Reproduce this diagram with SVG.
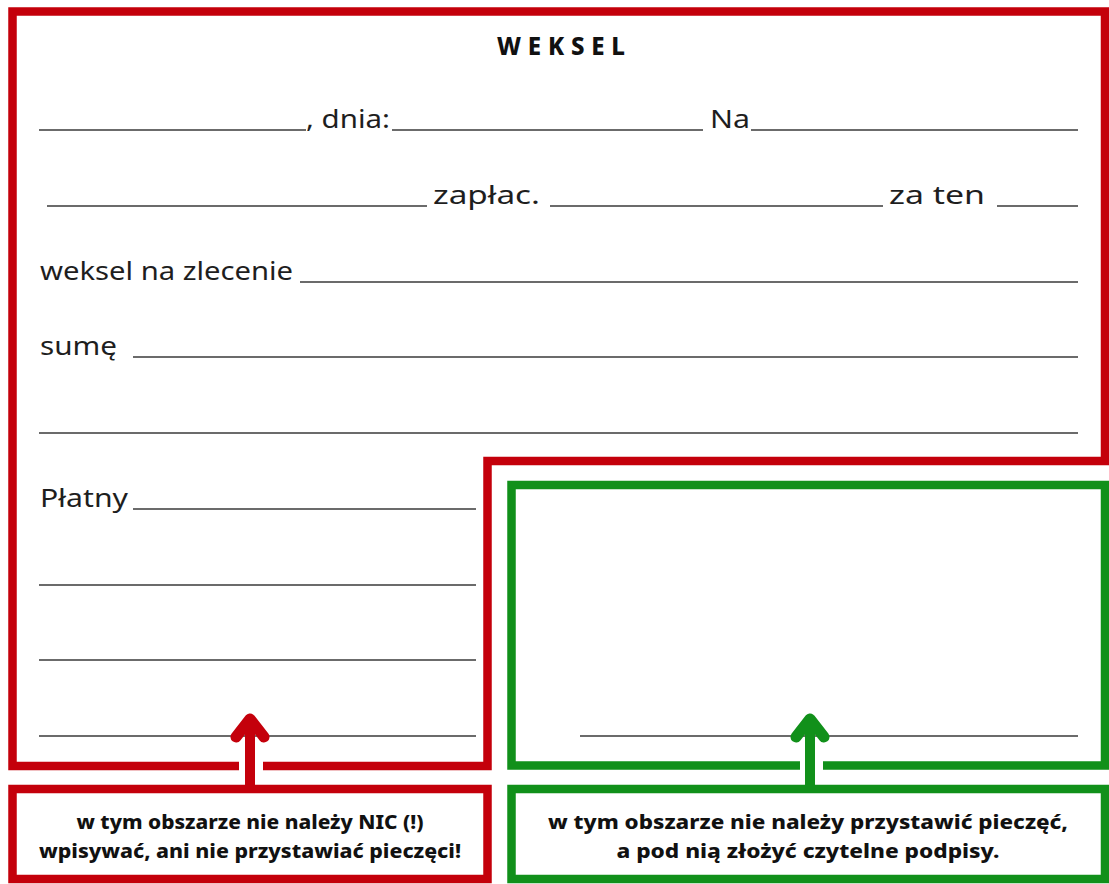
<svg xmlns="http://www.w3.org/2000/svg" width="1109" height="884" viewBox="0 0 1109 884">
<style>
.bg{fill:#ffffff}
.red{fill:none;stroke:#c4000b;stroke-width:8.5}
.green{fill:none;stroke:#11901a;stroke-width:8.5}
.ln{stroke:#3a3a3a;stroke-width:1.6}
.t{font-family:"Noto Sans","Open Sans","Liberation Sans",sans-serif;font-size:25px;fill:#1e1e1e}
.h{font-family:"Noto Sans","Open Sans","Liberation Sans",sans-serif;font-size:24px;font-weight:800;fill:#111}
.n{font-family:"Noto Sans","Open Sans","Liberation Sans",sans-serif;font-size:20px;font-weight:800;fill:#111;text-anchor:middle}
.ar{fill:none;stroke-linecap:round;stroke-linejoin:round}
</style>
<rect class="bg" x="0" y="0" width="1109" height="884"/>

<g id="weksel-form">
  <path class="red" d="M239,766 H12.5 V11.5 H1105 V461 H487.5 V766 H263"/>
  <text class="h" x="497" y="55" textLength="128">WEKSEL</text>
  <line class="ln" x1="39" y1="130" x2="306" y2="130"/>
  <text class="t" x="306" y="128" textLength="84" lengthAdjust="spacingAndGlyphs">, dnia:</text>
  <line class="ln" x1="392" y1="130" x2="703" y2="130"/>
  <text class="t" x="710" y="128" textLength="40" lengthAdjust="spacingAndGlyphs">Na</text>
  <line class="ln" x1="751" y1="130" x2="1078" y2="130"/>
  <line class="ln" x1="47" y1="206" x2="427" y2="206"/>
  <text class="t" x="433" y="204" textLength="107" lengthAdjust="spacingAndGlyphs">zapłac.</text>
  <line class="ln" x1="550" y1="206" x2="883" y2="206"/>
  <text class="t" x="889" y="204" textLength="96" lengthAdjust="spacingAndGlyphs">za ten</text>
  <line class="ln" x1="997" y1="206" x2="1078" y2="206"/>
  <text class="t" x="40" y="280" textLength="253" lengthAdjust="spacingAndGlyphs">weksel na zlecenie</text>
  <line class="ln" x1="300" y1="282" x2="1078" y2="282"/>
  <text class="t" x="40" y="355" textLength="77" lengthAdjust="spacingAndGlyphs">sumę</text>
  <line class="ln" x1="133" y1="357" x2="1078" y2="357"/>
  <line class="ln" x1="39" y1="433" x2="1078" y2="433"/>
  <text class="t" x="40" y="507" textLength="88" lengthAdjust="spacingAndGlyphs">Płatny</text>
  <line class="ln" x1="133" y1="509" x2="476" y2="509"/>
  <line class="ln" x1="39" y1="585" x2="476" y2="585"/>
  <line class="ln" x1="39" y1="660" x2="476" y2="660"/>
  <line class="ln" x1="39" y1="736" x2="476" y2="736"/>
</g>

<g id="signature-area">
  <path class="green" d="M800,765.5 H511.5 V485 H1105 V765.5 H823"/>
  <line class="ln" x1="580" y1="736" x2="1078" y2="736"/>
</g>

<g id="note-red">
  <rect class="red" x="12.5" y="789" width="475" height="90"/>
  <text class="n" x="250" y="829" textLength="347" lengthAdjust="spacingAndGlyphs">w tym obszarze nie należy NIC (!)</text>
  <text class="n" x="250" y="858" textLength="422" lengthAdjust="spacingAndGlyphs">wpisywać, ani nie przystawiać pieczęci!</text>
</g>

<g id="note-green">
  <rect class="green" x="511.5" y="789" width="593.5" height="90"/>
  <text class="n" x="808" y="829" textLength="520" lengthAdjust="spacingAndGlyphs">w tym obszarze nie należy przystawić pieczęć,</text>
  <text class="n" x="808" y="858" textLength="383" lengthAdjust="spacingAndGlyphs">a pod nią złożyć czytelne podpisy.</text>
</g>

<g id="connectors">
  <line stroke="#c4000b" stroke-width="10" x1="250" y1="722" x2="250" y2="789"/>
  <polyline class="ar" stroke="#c4000b" stroke-width="11" points="236,737 250,719 264,737"/>
  <line stroke="#11901a" stroke-width="10" x1="810" y1="722" x2="810" y2="789"/>
  <polyline class="ar" stroke="#11901a" stroke-width="11" points="796,737 810,719 824,737"/>
</g>
</svg>
